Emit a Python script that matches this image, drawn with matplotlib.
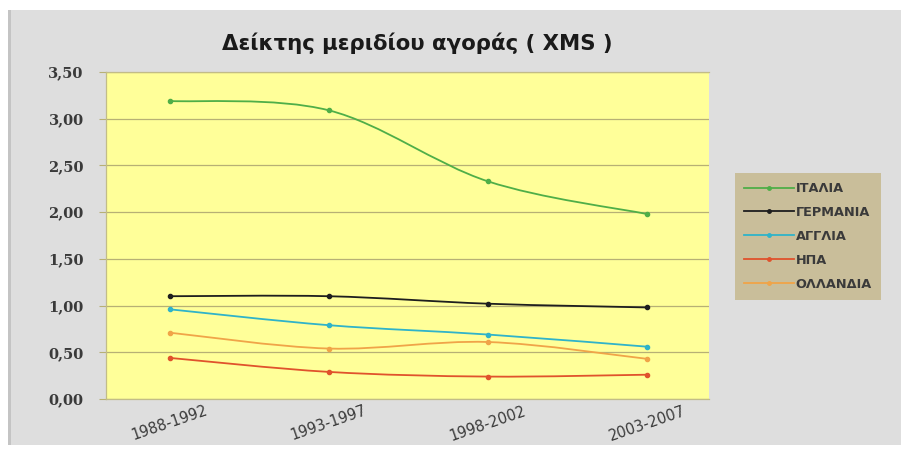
import numpy as np
import matplotlib
matplotlib.use("Agg")
import matplotlib.pyplot as plt
from matplotlib.path import Path
from matplotlib.patches import PathPatch, Rectangle
from matplotlib.lines import Line2D
from matplotlib.ticker import FuncFormatter

plt.rcParams['font.family'] = ['DejaVu Sans']

# data
periods = ["1988-1992", "1993-1997", "1998-2002", "2003-2007"]
countries = ["ΙΤΑΛΙΑ", "ΓΕΡΜΑΝΙΑ", "ΑΓΓΛΙΑ", "ΗΠΑ", "ΟΛΛΑΝΔΙΑ"]
italia = [3.19, 3.09, 2.33, 1.98]
germania = [1.10, 1.10, 1.02, 0.98]
anglia = [0.96, 0.79, 0.69, 0.56]
hpa = [0.44, 0.29, 0.24, 0.26]
ollandia = [0.71, 0.54, 0.61, 0.43]
colors = ["#4fae48", "#1e1e1e", "#2fb3c9", "#e0522c", "#f0a448"]


# Excel style smoothed line: cubic bezier through the points
def smooth_path(x, y):
    pts = np.column_stack([x, y]).astype(float)
    n = len(pts)
    verts = [pts[0]]
    codes = [Path.MOVETO]
    for i in range(n - 1):
        p0 = pts[max(i - 1, 0)]
        p1 = pts[i]
        p2 = pts[i + 1]
        p3 = pts[min(i + 2, n - 1)]
        c1 = p1 + (p2 - p0) / 6.0
        c2 = p2 - (p3 - p1) / 6.0
        verts += [c1, c2, p2]
        codes += [Path.CURVE4] * 3
    return Path(verts, codes)


fig = plt.figure(figsize=(9.01, 4.57), dpi=100)
fig.patch.set_facecolor("white")
# grey chart area
fig.patches.append(Rectangle((10 / 901, 12 / 457), 1 - 10 / 901, 1 - 22 / 457,
                             transform=fig.transFigure, facecolor="#dedede",
                             edgecolor="none", zorder=-10))
fig.patches.append(Rectangle((8 / 901, 12 / 457), 3 / 901, 1 - 22 / 457,
                             transform=fig.transFigure, facecolor="#c4c4c4",
                             edgecolor="none", zorder=-10))

ax = fig.add_axes([106 / 901, 1 - 399 / 457, 603 / 901, 327 / 457])
ax.set_facecolor("#ffff99")

x = np.arange(len(periods))
series = [italia, germania, anglia, hpa, ollandia]
handles = []
for vals, col, name in zip(series, colors, countries):
    patch = PathPatch(smooth_path(x, vals), facecolor="none", edgecolor=col,
                      lw=1.3, zorder=3)
    ax.add_patch(patch)
    ax.plot(x, vals, linestyle="none", marker="o", ms=3, color=col, zorder=4)
    handles.append(Line2D([0], [0], color=col, lw=1.3, marker="o", ms=2.5,
                          label=name))

ax.set_xlim(-0.40, 3.39)
ax.set_ylim(0, 3.5)
ax.set_yticks(np.arange(0, 3.51, 0.5))
ax.yaxis.set_major_formatter(FuncFormatter(lambda v, p: f"{v:.2f}".replace(".", ",")))
ax.set_xticks(x)
ax.set_xticklabels(periods, rotation=19, ha="center", rotation_mode="default")
ax.grid(axis="y", color="#b7b075", lw=0.9)
ax.set_axisbelow(True)
for side in ["left", "bottom", "top", "right"]:
    ax.spines[side].set_color("#c2bc88")
    ax.spines[side].set_linewidth(0.9)
ax.spines["right"].set_visible(False)
ax.tick_params(axis="y", length=5, color="#b7b075", labelsize=10.5,
               labelcolor="#3a3a3a", pad=11)
ax.tick_params(axis="x", length=0, labelsize=10.5, labelcolor="#3a3a3a", pad=3)
for lab in ax.get_yticklabels():
    lab.set_family(["DejaVu Serif"])
    lab.set_fontweight("bold")

fig.text(0.463, 1 - 43 / 457, "Δείκτης μεριδίου αγοράς ( XMS )",
         ha="center", va="center", fontsize=15.3, fontweight="bold",
         color="#1a1a1a")

leg = fig.legend(handles=handles, loc="upper left",
                 bbox_to_anchor=(735 / 901, 1 - 173 / 457),
                 frameon=True, fancybox=False, fontsize=9.3,
                 labelspacing=0.85, handlelength=3.9, handletextpad=0.1,
                 borderpad=0.7, borderaxespad=0)
leg.get_frame().set_facecolor("#c9be9a")
leg.get_frame().set_edgecolor("none")
leg.get_frame().set_alpha(1)
for t in leg.get_texts():
    t.set_color("#3a3a3a")
    t.set_fontweight("bold")

fig.savefig("out.png", dpi=100)
